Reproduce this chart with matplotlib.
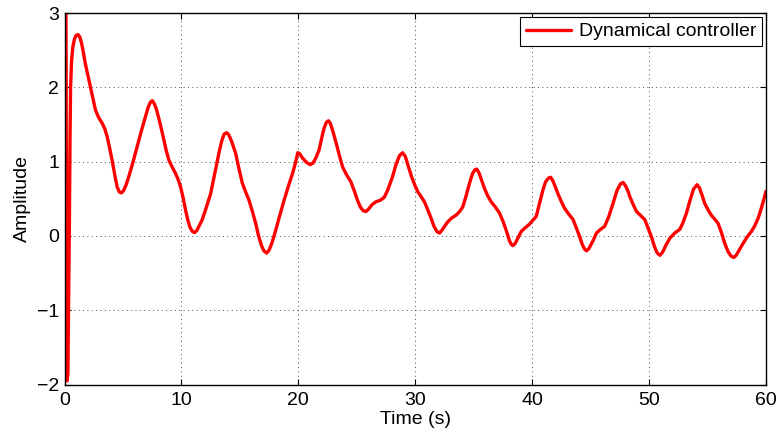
import matplotlib
matplotlib.use("Agg")
import matplotlib.pyplot as plt

plt.rcParams['font.family'] = ['Liberation Sans', 'DejaVu Sans']

# Controller response samples: time (s) and amplitude
time_s = [
    0.00, 0.12, 0.21, 0.29, 0.36, 0.42, 0.47, 0.52, 0.60, 0.72,
    0.85, 1.00, 1.16, 1.30, 1.45, 1.60, 1.78, 2.00, 2.21, 2.45,
    2.64, 2.90, 3.21, 3.45, 3.64, 3.85, 4.07, 4.30, 4.50, 4.70,
    4.87, 5.05, 5.25, 5.50, 5.85, 6.21, 6.55, 6.93, 7.15, 7.35,
    7.50, 7.65, 7.85, 8.07, 8.30, 8.50, 8.70, 8.93, 9.20, 9.50,
    9.72, 9.93, 10.15, 10.35, 10.55, 10.75, 10.95, 11.12, 11.30, 11.50,
    11.78, 12.10, 12.50, 12.85, 13.20, 13.45, 13.65, 13.87, 14.05, 14.30,
    14.64, 14.90, 15.21, 15.50, 15.78, 16.05, 16.35, 16.60, 16.85, 17.05,
    17.29, 17.50, 17.75, 18.07, 18.40, 18.78, 19.15, 19.50, 19.75, 19.95,
    20.10, 20.35, 20.70, 21.00, 21.25, 21.50, 21.78, 22.00, 22.20, 22.40,
    22.58, 22.75, 22.95, 23.20, 23.50, 23.78, 24.10, 24.49, 24.80, 25.06,
    25.30, 25.55, 25.78, 26.00, 26.30, 26.63, 27.00, 27.35, 27.65, 28.06,
    28.35, 28.65, 28.92, 29.15, 29.40, 29.70, 30.00, 30.20, 30.50, 30.78,
    31.05, 31.35, 31.60, 31.85, 32.07, 32.30, 32.55, 32.78, 33.10, 33.49,
    33.80, 34.06, 34.35, 34.64, 34.90, 35.10, 35.26, 35.45, 35.70, 35.92,
    36.20, 36.49, 36.85, 37.20, 37.50, 37.77, 38.05, 38.20, 38.35, 38.55,
    38.80, 39.06, 39.40, 39.78, 40.05, 40.34, 40.65, 40.92, 41.15, 41.40,
    41.58, 41.78, 42.00, 42.20, 42.50, 42.78, 43.15, 43.50, 43.80, 44.06,
    44.30, 44.50, 44.65, 44.85, 45.05, 45.25, 45.50, 45.85, 46.20, 46.55,
    46.92, 47.25, 47.55, 47.78, 48.00, 48.20, 48.35, 48.65, 48.92, 49.30,
    49.63, 49.90, 50.20, 50.45, 50.70, 50.92, 51.15, 51.45, 51.78, 52.20,
    52.63, 52.90, 53.20, 53.50, 53.80, 54.10, 54.30, 54.55, 54.75, 55.05,
    55.32, 55.65, 55.90, 56.20, 56.47, 56.75, 57.00, 57.24, 57.45, 57.75,
    58.04, 58.40, 58.75, 59.05, 59.33, 59.65, 60.00,
]
amplitude = [
    3.60, 3.20, -1.95, -1.85, -0.80, 0.20, 1.30, 2.00, 2.35, 2.55,
    2.65, 2.70, 2.71, 2.68, 2.60, 2.48, 2.32, 2.16, 2.01, 1.83,
    1.70, 1.60, 1.52, 1.44, 1.34, 1.19, 1.02, 0.82, 0.66, 0.59,
    0.58, 0.61, 0.68, 0.80, 0.99, 1.20, 1.40, 1.61, 1.73, 1.80,
    1.82, 1.79, 1.71, 1.58, 1.43, 1.29, 1.15, 1.02, 0.93, 0.84,
    0.76, 0.66, 0.51, 0.35, 0.21, 0.11, 0.06, 0.045, 0.07, 0.13,
    0.22, 0.37, 0.57, 0.84, 1.11, 1.28, 1.37, 1.39, 1.36, 1.27,
    1.11, 0.92, 0.71, 0.59, 0.48, 0.34, 0.17, 0.00, -0.13, -0.20,
    -0.23, -0.19, -0.09, 0.08, 0.27, 0.48, 0.67, 0.84, 0.98, 1.12,
    1.11, 1.05, 0.99, 0.96, 0.98, 1.05, 1.16, 1.32, 1.45, 1.53,
    1.55, 1.51, 1.41, 1.27, 1.09, 0.93, 0.83, 0.73, 0.60, 0.48,
    0.39, 0.34, 0.33, 0.36, 0.42, 0.46, 0.48, 0.52, 0.62, 0.80,
    0.96, 1.08, 1.12, 1.07, 0.94, 0.79, 0.67, 0.60, 0.53, 0.46,
    0.36, 0.24, 0.13, 0.06, 0.04, 0.08, 0.14, 0.19, 0.24, 0.28,
    0.33, 0.39, 0.54, 0.71, 0.84, 0.89, 0.90, 0.85, 0.74, 0.64,
    0.54, 0.46, 0.39, 0.31, 0.20, 0.08, -0.06, -0.11, -0.13, -0.10,
    -0.02, 0.06, 0.11, 0.16, 0.21, 0.26, 0.45, 0.62, 0.73, 0.78,
    0.79, 0.74, 0.65, 0.57, 0.46, 0.37, 0.29, 0.22, 0.10, -0.01,
    -0.12, -0.18, -0.20, -0.17, -0.11, -0.05, 0.04, 0.09, 0.13, 0.26,
    0.44, 0.61, 0.70, 0.72, 0.67, 0.60, 0.53, 0.42, 0.33, 0.27,
    0.22, 0.11, -0.01, -0.14, -0.23, -0.26, -0.22, -0.12, -0.03, 0.04,
    0.09, 0.18, 0.31, 0.48, 0.63, 0.69, 0.65, 0.54, 0.44, 0.35,
    0.28, 0.22, 0.17, 0.04, -0.10, -0.21, -0.27, -0.29, -0.26, -0.18,
    -0.10, -0.01, 0.06, 0.14, 0.24, 0.40, 0.60,
]

x_ticks = [0, 10, 20, 30, 40, 50, 60]
y_ticks = [-2, -1, 0, 1, 2, 3]

fig = plt.figure(figsize=(7.81, 4.38), dpi=100)
ax = fig.add_axes([0.0826, 0.1219, 0.8982, 0.8484])

ax.plot(time_s, amplitude, color='#ff0000', linewidth=2.4,
        solid_joinstyle='round', solid_capstyle='round',
        label='Dynamical controller')

ax.set_xlim(0, 60)
ax.set_ylim(-2, 3)
ax.set_xticks(x_ticks)
ax.set_yticks(y_ticks)

ax.grid(True, color='0.3', linestyle=(0, (1, 3.5)), linewidth=0.7)
ax.tick_params(direction='in', length=4, width=0.8, top=True, right=True,
               labelsize=14, colors='black')
ax.tick_params(axis='x', pad=5)
ax.tick_params(axis='y', pad=4)
for sp in ax.spines.values():
    sp.set_linewidth(1.0)
    sp.set_color('black')

ax.set_xlabel('Time (s)', fontsize=14, labelpad=2)
ax.set_ylabel('Amplitude', fontsize=14, labelpad=4)

leg = ax.legend(loc='upper right', bbox_to_anchor=(1, 1), fontsize=14,
                borderaxespad=0.2, handlelength=2.3, handletextpad=0.4,
                borderpad=0.3, fancybox=False, framealpha=1)
leg.get_frame().set_edgecolor('black')
leg.get_frame().set_linewidth(0.8)

fig.savefig('out.png', dpi=100)
